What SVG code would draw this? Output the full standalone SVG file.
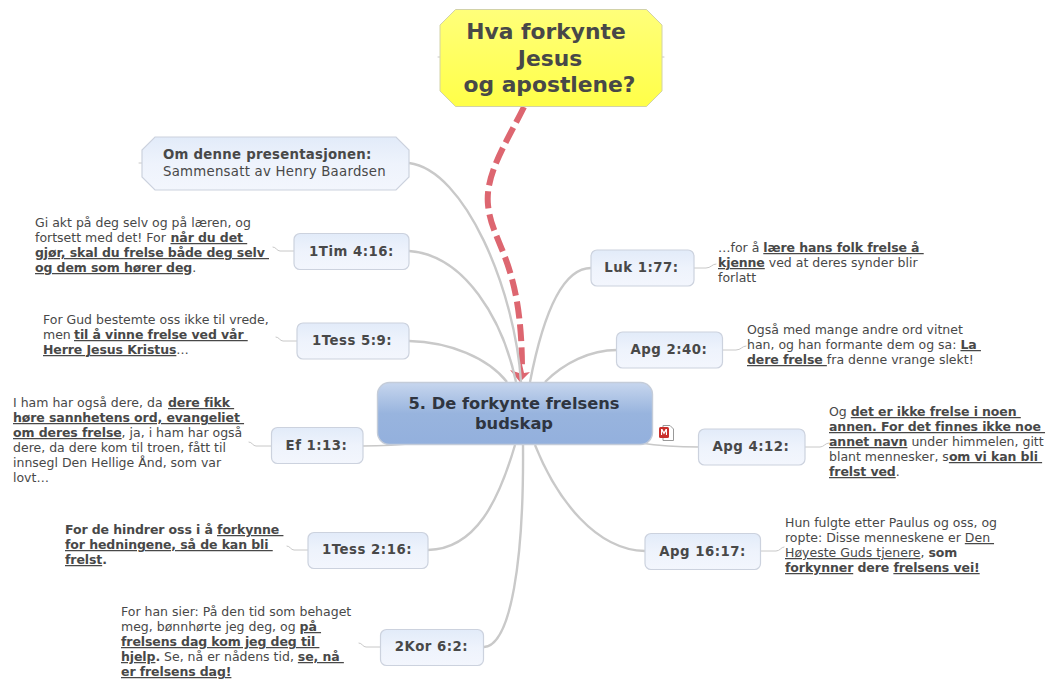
<svg xmlns="http://www.w3.org/2000/svg" width="1060" height="689" viewBox="0 0 1060 689">
<style>
text{font-family:"DejaVu Sans",Verdana,sans-serif;fill:#484848;}
.n{font-size:12.5px;}
.t{font-size:13.3px;font-weight:bold;text-anchor:middle;letter-spacing:.5px;}
.b{font-weight:bold;letter-spacing:-.1px;}
.u{text-decoration:underline;}
.c{fill:none;stroke:#c9c9c9;stroke-width:2.400;}
.l{fill:none;stroke:#c8c8c8;stroke-linecap:round;}
.k{fill:url(#g);stroke:#ccd2de;stroke-width:1.2;}
</style>
<defs>
<linearGradient id="g" x1="0" y1="0" x2="0" y2="1"><stop offset="0" stop-color="#e2ebf9"/><stop offset="0.5" stop-color="#eef3fc"/><stop offset="1" stop-color="#f3f6fd"/></linearGradient>
<linearGradient id="m" x1="0" y1="0" x2="0" y2="1"><stop offset="0" stop-color="#c7d6ee"/><stop offset="0.5" stop-color="#98b4de"/><stop offset="1" stop-color="#93b0dd"/></linearGradient>
<linearGradient id="y" x1="0" y1="0" x2="0" y2="1"><stop offset="0" stop-color="#ffff7a"/><stop offset="1" stop-color="#ffff48"/></linearGradient>
</defs>
<g id="connectors">
<path fill="none" stroke="#dd6670" stroke-width="6" stroke-dasharray="17 6" d="M524 107C505 145 485 175 488 205C492 245 522 260 522 370"/>
<path fill="#dd6670" d="M510 370L519 373L521 360L524 373L530 372L520 382Z"/>
<path class="c" d="M409 163C465 170 515 290 521 382"/>
<path class="c" d="M409 251C465 255 503 320 516 382"/>
<path class="c" d="M409 341C450 342 488 358 507 382"/>
<path class="c" d="M591 268C561 268 542 320 530 382"/>
<path class="c" d="M617 350C590 350 564 363 545 382"/>
<path class="c" d="M428 550C476 549 499 500 515 445"/>
<path class="c" d="M484 647C511 645 524 560 523 445"/>
<path class="c" d="M645 551C596 550 557 500 535 445"/>
<path class="l" stroke-width="1.500" d="M363 446C380 446 400 445 420 443"/>
<path class="l" stroke-width="1.500" d="M640 443C660 446 680 447 699 447"/>
<path class="l" stroke-width="1" d="M142 163H139M440 57H438M662 57H664M294 251H280C277 251 276 247 273 247M297 341H283C280 341 279 337 276 337M271 446H256C253 446 252 442 249 442M308 550H294C291 550 290 546 287 546M380 647H366C363 647 362 643 359 643M694 268H706C711 268 712 264 716 264M722 350H736C741 350 742 346 746 346M805 447H820C824 447 825 443 829 443M761 551H776C780 551 781 547 784 547"/>
</g>
<g id="top"><path fill="url(#y)" stroke="#d2d2a8" d="M455.500 9.500H646.500L662 25V91L646.500 106.500H455.500L440 91V25Z"/>
<text font-size="21.800" font-weight="bold" text-anchor="middle"><tspan x="546" y="39">Hva forkynte</tspan><tspan x="550" y="66">Jesus</tspan><tspan x="549.500" y="92">og apostlene?</tspan></text></g>
<g id="om"><path class="k" d="M155 137H396L409 150V177L396 190H155L142 177V150Z"/>
<text style="font-size:13.300px;letter-spacing:.25px"><tspan x="163" y="159" font-weight="bold">Om denne presentasjonen:</tspan><tspan x="163" y="176">Sammensatt av Henry Baardsen</tspan></text></g>
<g id="center"><rect x="377.500" y="382.500" width="275" height="62" rx="12" fill="url(#m)" stroke="#c4ccd9" stroke-width="1.400"/>
<text font-size="16.300" font-weight="bold" text-anchor="middle" style="fill:#2f3540"><tspan x="514" y="409">5. De forkynte frelsens</tspan><tspan x="514" y="429">budskap</tspan></text>
<g transform="translate(659,425)"><path fill="#fff" stroke="#999" d="M4 .5H11L14.500 4V15.500H4Z"/><rect x="0" y="2" width="10" height="11" rx="1.500" fill="#c9302c"/><path fill="#fff" d="M2 4H3.400L5 7L6.600 4H8V10H6.900V6.500L5 9.500L3.100 6.500V10H2Z"/></g></g>
<g id="n1tim"><rect class="k" x="294" y="233.500" width="115" height="36" rx="6"/><text class="t" x="351.500" y="255.500">1Tim 4:16:</text></g>
<g id="n1tess59"><rect class="k" x="297" y="323" width="112" height="36" rx="6"/><text class="t" x="352" y="345">1Tess 5:9:</text></g>
<g id="nef"><rect class="k" x="271.500" y="427.500" width="91.500" height="36" rx="6"/><text class="t" x="316.500" y="450">Ef 1:13:</text></g>
<g id="n1tess216"><rect class="k" x="308" y="532.500" width="120" height="36" rx="6"/><text class="t" x="367" y="554">1Tess 2:16:</text></g>
<g id="n2kor"><rect class="k" x="380.500" y="629.500" width="103" height="36" rx="6"/><text class="t" x="431.500" y="651">2Kor 6:2:</text></g>
<g id="nluk"><rect class="k" x="591" y="250" width="103" height="36" rx="6"/><text class="t" x="641.500" y="272">Luk 1:77:</text></g>
<g id="napg240"><rect class="k" x="616.500" y="332" width="106" height="36" rx="6"/><text class="t" x="669" y="354">Apg 2:40:</text></g>
<g id="napg412"><rect class="k" x="698.500" y="429" width="106.500" height="36" rx="6"/><text class="t" x="751" y="451">Apg 4:12:</text></g>
<g id="napg1617"><rect class="k" x="645" y="533.500" width="115.500" height="36" rx="6"/><text class="t" x="702.500" y="555.500">Apg 16:17:</text></g>
<g id="d1tim"><text class="n"><tspan x="35" y="227">Gi akt på deg selv og på læren, og</tspan><tspan x="35" y="242">fortsett med det! For <tspan class="b u" x="170.500">når du det </tspan></tspan><tspan x="35" y="257" class="b u">gjør, skal du frelse både deg selv </tspan><tspan x="35" y="272"><tspan class="b u">og dem som hører deg</tspan>.</tspan></text></g>
<g id="d1tess59"><text class="n"><tspan x="43" y="324">For Gud bestemte oss ikke til vrede,</tspan><tspan x="43" y="339">men <tspan class="b u" x="74">til å vinne frelse ved vår </tspan></tspan><tspan x="43" y="354"><tspan class="b u">Herre Jesus Kristus</tspan>…</tspan></text></g>
<g id="def"><text class="n"><tspan x="13" y="407">I ham har også dere, da <tspan class="b u" x="168">dere fikk </tspan></tspan><tspan x="13" y="422" class="b u">høre sannhetens ord, evangeliet </tspan><tspan x="13" y="437"><tspan class="b u">om deres frelse</tspan>, ja, i ham har også</tspan><tspan x="13" y="452">dere, da dere kom til troen, fått til</tspan><tspan x="13" y="467">innsegl Den Hellige Ånd, som var</tspan><tspan x="13" y="482">lovt…</tspan></text></g>
<g id="d1tess216"><text class="n"><tspan x="65" y="534" class="b">For de hindrer oss i å <tspan class="u">forkynne </tspan></tspan><tspan x="65" y="549" class="b u">for hedningene, så de kan bli </tspan><tspan x="65" y="564" class="b"><tspan class="u">frelst</tspan>.</tspan></text></g>
<g id="d2kor"><text class="n"><tspan x="121" y="616">For han sier: På den tid som behaget</tspan><tspan x="121" y="631">meg, bønnhørte jeg deg, og <tspan class="b u">på </tspan></tspan><tspan x="121" y="646" class="b u">frelsens dag kom jeg deg til </tspan><tspan x="121" y="661"><tspan class="b u">hjelp</tspan><tspan class="b">.</tspan> Se, nå er nådens tid, <tspan class="b u">se, nå </tspan></tspan><tspan x="121" y="676" class="b u">er frelsens dag!</tspan></text></g>
<g id="dluk"><text class="n"><tspan x="718" y="252">…for å <tspan class="b u">lære hans folk frelse å </tspan></tspan><tspan x="718" y="267"><tspan class="b u">kjenne</tspan> ved at deres synder blir</tspan><tspan x="718" y="282">forlatt</tspan></text></g>
<g id="dapg240"><text class="n"><tspan x="747" y="334">Også med mange andre ord vitnet</tspan><tspan x="747" y="349">han, og han formante dem og sa: <tspan class="b u">La </tspan></tspan><tspan x="747" y="364"><tspan class="b u">dere frelse </tspan>fra denne vrange slekt!</tspan></text></g>
<g id="dapg412"><text class="n"><tspan x="829" y="416">Og <tspan class="b u">det er ikke frelse i noen </tspan></tspan><tspan x="829" y="431" class="b u">annen. For det finnes ikke noe </tspan><tspan x="829" y="446"><tspan class="b u">annet navn</tspan> under himmelen, gitt</tspan><tspan x="829" y="461">blant mennesker, s<tspan class="b u">om vi kan bli </tspan></tspan><tspan x="829" y="476"><tspan class="b u">frelst ved</tspan>.</tspan></text></g>
<g id="dapg1617"><text class="n"><tspan x="785" y="527">Hun fulgte etter Paulus og oss, og</tspan><tspan x="785" y="542">ropte: Disse menneskene er <tspan class="u">Den </tspan></tspan><tspan x="785" y="557"><tspan class="u">Høyeste Guds tjenere</tspan>, <tspan class="b">som</tspan></tspan><tspan x="785" y="572"><tspan class="b u">forkynner</tspan><tspan class="b"> dere </tspan><tspan class="b u">frelsens vei!</tspan></tspan></text></g>
</svg>
